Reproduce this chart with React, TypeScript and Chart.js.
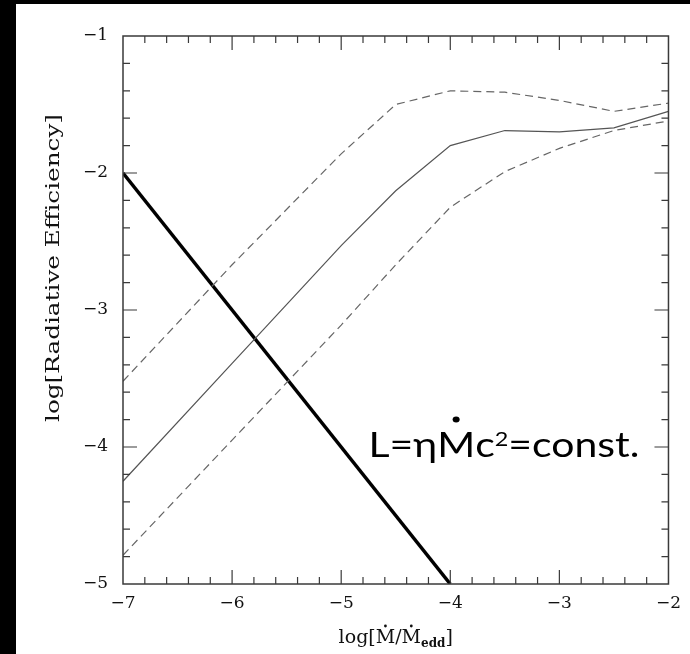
import React, { useEffect, useRef } from "react";
import { Chart, registerables } from "chart.js";
Chart.register(...registerables);

// log(Mdot/Mdot_edd) sample points
const xValues = [-7, -6, -5, -4.5, -4, -3.5, -3, -2.5, -2];
// log(radiative efficiency): central model and upper/lower bounds
const solidEff = [-4.25, -3.39, -2.53, -2.13, -1.8, -1.69, -1.7, -1.67, -1.55];
const upperEff = [-3.52, -2.67, -1.86, -1.5, -1.4, -1.41, -1.47, -1.55, -1.49];
const lowerEff = [-4.79, -3.95, -3.11, -2.67, -2.25, -1.99, -1.82, -1.69, -1.62];
// constant-luminosity line
const constLX = [-7, -4];
const constLY = [-2, -5];

const X_MIN = -7, X_MAX = -2, Y_MIN = -5, Y_MAX = -1;
const annotationText = ["L=η", "M", "c", "2", "=const."];
const xTitleParts = ["log[", "M", "/", "M", "edd", "]"];
const yTitle = "log[Radiative Efficiency]";

const SERIF = "'DejaVu Serif', serif";
const SANS = "Lato, 'Open Sans', sans-serif";

const fmt = (v: number) => (v < 0 ? "\u2212" + Math.abs(v) : String(v));

const pts = (xs: number[], ys: number[]) => xs.map((x, i) => ({ x, y: ys[i] }));

const framePlugin = {
  id: "framePlugin",
  beforeDraw(chart: any) {
    const ctx = chart.ctx;
    ctx.save();
    ctx.fillStyle = "#fff";
    ctx.fillRect(0, 0, chart.width, chart.height);
    ctx.fillStyle = "#000";
    ctx.fillRect(0, 0, 16, chart.height);
    ctx.fillRect(0, 0, chart.width, 4);
    ctx.restore();
  },
  afterDraw(chart: any) {
    const ctx = chart.ctx;
    const { left, right, top, bottom } = chart.chartArea;
    const xs = chart.scales.x, ys = chart.scales.y;
    ctx.save();
    ctx.strokeStyle = "#3a3a3a";
    ctx.lineWidth = 1.5;
    ctx.strokeRect(left, top, right - left, bottom - top);
    ctx.lineWidth = 1.2;
    ctx.beginPath();
    for (let i = 1; i < 25; i++) {
      const px = xs.getPixelForValue(X_MIN + i * 0.2);
      const len = i % 5 === 0 ? 14 : 7;
      ctx.moveTo(px, bottom); ctx.lineTo(px, bottom - len);
      ctx.moveTo(px, top); ctx.lineTo(px, top + len);
    }
    for (let i = 1; i < 20; i++) {
      const py = ys.getPixelForValue(Y_MIN + i * 0.2);
      const len = i % 5 === 0 ? 14 : 7;
      ctx.moveTo(left, py); ctx.lineTo(left + len, py);
      ctx.moveTo(right, py); ctx.lineTo(right - len, py);
    }
    ctx.stroke();

    // x-axis title
    ctx.fillStyle = "#111";
    ctx.textBaseline = "alphabetic";
    const fMain = "19px " + SERIF;
    const fSub = "bold 12px " + SERIF;
    const widths = xTitleParts.map((p, i) => {
      ctx.font = i === 4 ? fSub : fMain;
      return ctx.measureText(p).width;
    });
    const total = widths.reduce((a, b) => a + b, 0);
    let cx = (left + right) / 2 - total / 2;
    const by = 643;
    xTitleParts.forEach((p, i) => {
      ctx.font = i === 4 ? fSub : fMain;
      ctx.fillText(p, cx, i === 4 ? by + 4 : by);
      if (i === 1 || i === 3) {
        ctx.beginPath();
        ctx.arc(cx + widths[i] / 2, by - 17, 1.4, 0, Math.PI * 2);
        ctx.fill();
      }
      cx += widths[i];
    });

    // y-axis title (stretched along its length like the original)
    ctx.save();
    ctx.translate(54, 268);
    ctx.rotate(-Math.PI / 2);
    ctx.scale(1.3, 1);
    ctx.font = "19px " + SERIF;
    ctx.textAlign = "center";
    ctx.textBaseline = "middle";
    ctx.fillText(yTitle, 0, 0);
    ctx.restore();

    // annotation
    const ax = xs.getPixelForValue(-4.75);
    const ay = ys.getPixelForValue(-4.07);
    const fBig = "35px " + SANS;
    const fSup = "20px " + SANS;
    const aw = annotationText.map((p, i) => {
      ctx.font = i === 3 ? fSup : fBig;
      return ctx.measureText(p).width;
    });
    const stretch = 1.17;
    ctx.save();
    ctx.translate(ax, ay);
    ctx.scale(stretch, 1);
    let tx = 0;
    ctx.fillStyle = "#000";
    ctx.textAlign = "left";
    ctx.textBaseline = "alphabetic";
    annotationText.forEach((p, i) => {
      ctx.font = i === 3 ? fSup : fBig;
      ctx.fillText(p, tx, i === 3 ? -11 : 0);
      if (i === 1) {
        ctx.beginPath();
        ctx.arc(tx + aw[i] / 2, -37, 3, 0, Math.PI * 2);
        ctx.fill();
      }
      tx += aw[i];
    });
    ctx.restore();
    ctx.restore();
  },
};

export default function App() {
  const ref = useRef<HTMLCanvasElement | null>(null);
  useEffect(() => {
    if (!ref.current) return;
    const tickFont = { family: SERIF, size: 17 };
    const chart = new Chart(ref.current, {
      type: "line",
      data: {
        datasets: [
          { data: pts(xValues, solidEff), borderColor: "#555", borderWidth: 1.2, pointRadius: 0, fill: false, tension: 0 },
          { data: pts(xValues, upperEff), borderColor: "#666", borderWidth: 1.2, borderDash: [8, 5], pointRadius: 0, fill: false, tension: 0 },
          { data: pts(xValues, lowerEff), borderColor: "#666", borderWidth: 1.2, borderDash: [8, 5], pointRadius: 0, fill: false, tension: 0 },
          { data: pts(constLX, constLY), borderColor: "#000", borderWidth: 3.5, pointRadius: 0, fill: false },
        ],
      },
      options: {
        animation: false,
        responsive: false,
        devicePixelRatio: 1,
        layout: { padding: { top: 36, right: 19, left: 0, bottom: 0 } },
        plugins: { legend: { display: false }, tooltip: { enabled: false } },
        scales: {
          x: {
            type: "linear",
            min: X_MIN,
            max: X_MAX,
            ticks: { stepSize: 1, callback: (v: any) => fmt(Number(v)), font: tickFont, color: "#111", padding: 9, maxRotation: 0, autoSkip: false },
            grid: { display: false, drawTicks: false },
            border: { display: false },
            afterFit: (s: any) => { s.height = 70; },
          },
          y: {
            type: "linear",
            min: Y_MIN,
            max: Y_MAX,
            ticks: { stepSize: 1, callback: (v: any) => fmt(Number(v)), font: tickFont, color: "#111", padding: 15, autoSkip: false },
            grid: { display: false, drawTicks: false },
            border: { display: false },
            afterFit: (s: any) => { s.width = 123; },
          },
        },
      },
      plugins: [framePlugin],
    } as any);
    return () => chart.destroy();
  }, []);
  return (
    <div style={{ position: "fixed", left: 0, top: 0, width: 690, height: 654, background: "#fff" }}>
      <canvas ref={ref} width={690} height={654} style={{ display: "block", width: 690, height: 654 }} />
    </div>
  );
}
